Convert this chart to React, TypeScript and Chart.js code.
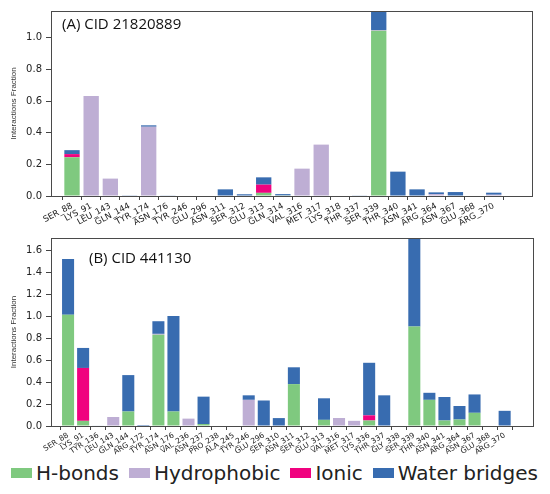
import React, { useEffect, useRef } from 'react';
import { Chart, registerables } from 'chart.js';

Chart.register(...registerables);

const seriesNames = ['H-bonds', 'Hydrophobic', 'Ionic', 'Water bridges'];
const seriesColors = ['#7fc97f', '#beaed4', '#f0027f', '#386cb0'];

// (A) CID 21820889
const residuesA = ['SER_88', 'LYS_91', 'LEU_143', 'GLN_144', 'TYR_174', 'ASN_176', 'TYR_246', 'GLU_296', 'ASN_311', 'SER_312', 'GLU_313', 'GLN_314', 'VAL_316', 'MET_317', 'LYS_318', 'THR_337', 'SER_339', 'THR_340', 'ASN_341', 'ARG_364', 'ASN_367', 'GLU_368', 'ARG_370'];
const hbondsA = [0.245, 0, 0, 0, 0, 0, 0, 0, 0, 0, 0.02, 0.004, 0, 0, 0, 0, 1.045, 0, 0, 0, 0, 0, 0];
const hydrophobicA = [0, 0.633, 0.11, 0, 0.438, 0, 0.003, 0, 0, 0, 0, 0, 0.173, 0.325, 0, 0, 0.005, 0, 0, 0.012, 0, 0, 0.008];
const ionicA = [0.02, 0, 0, 0, 0, 0, 0, 0, 0, 0, 0.052, 0, 0, 0, 0, 0, 0, 0, 0, 0, 0, 0, 0];
const waterA = [0.025, 0, 0, 0.002, 0.009, 0.004, 0, 0, 0.042, 0.011, 0.046, 0.008, 0, 0, 0, 0.004, 0.17, 0.154, 0.042, 0.011, 0.025, 0, 0.013];
const yTicksA = [0, 0.2, 0.4, 0.6, 0.8, 1.0];

// (B) CID 441130
const residuesB = ['SER_88', 'LYS_91', 'TYR_136', 'LEU_143', 'GLN_144', 'ARG_172', 'TYR_174', 'ASN_176', 'VAL_236', 'ASN_237', 'PRO_238', 'ALA_245', 'TYR_246', 'GLU_296', 'SER_310', 'ASN_311', 'SER_312', 'GLU_313', 'VAL_316', 'MET_317', 'LYS_336', 'THR_337', 'GLY_338', 'SER_339', 'THR_340', 'ASN_341', 'ARG_364', 'ASN_367', 'GLU_368', 'ARG_370'];
const hbondsB = [1.012, 0.047, 0, 0, 0.132, 0, 0.83, 0.132, 0, 0.018, 0, 0, 0, 0, 0, 0.381, 0, 0.056, 0, 0, 0.05, 0, 0, 0.906, 0.238, 0.05, 0.059, 0.12, 0, 0];
const hydrophobicB = [0, 0, 0, 0.082, 0, 0, 0.008, 0, 0.067, 0, 0, 0, 0.238, 0, 0, 0, 0, 0, 0.073, 0.047, 0, 0, 0, 0, 0, 0, 0, 0, 0, 0];
const ionicB = [0, 0.481, 0, 0, 0, 0, 0, 0, 0, 0, 0, 0, 0, 0, 0, 0, 0, 0, 0, 0, 0.047, 0, 0, 0, 0, 0, 0, 0, 0, 0];
const waterB = [0.507, 0.182, 0.005, 0, 0.331, 0.009, 0.115, 0.868, 0, 0.249, 0, 0, 0.041, 0.232, 0.072, 0.153, 0, 0.196, 0, 0, 0.478, 0.279, 0, 0.85, 0.064, 0.214, 0.123, 0.167, 0, 0.138];
const yTicksB = [0, 0.2, 0.4, 0.6, 0.8, 1.0, 1.2, 1.4, 1.6];

const tickFont = "'DejaVu Sans', sans-serif";

// matplotlib-like box round the plot area
const framePlugin = {
  id: 'frame',
  afterDraw(chart: Chart) {
    const { ctx, chartArea: a } = chart;
    ctx.save();
    ctx.strokeStyle = '#4a4a4a';
    ctx.lineWidth = 1;
    ctx.strokeRect(Math.round(a.left) + 0.5, Math.round(a.top) + 0.5, Math.round(a.right - a.left), Math.round(a.bottom - a.top));
    ctx.restore();
  },
};

interface PanelProps {
  residues: string[];
  series: number[][];
  yMax: number;
  yTicks: number[];
  xMin: number;
  xMax: number;
  padTop: number;
  padRight: number;
  xAxisHeight: number;
  xFontSize: number;
  xRotation: number;
}

const Panel: React.FC<PanelProps> = (p) => {
  const chartRef = useRef<HTMLCanvasElement | null>(null);
  const chartInstance = useRef<Chart | null>(null);

  useEffect(() => {
    if (!chartRef.current) return;
    if (chartInstance.current) chartInstance.current.destroy();

    chartInstance.current = new Chart(chartRef.current, {
      type: 'bar',
      data: {
        datasets: p.series.map((values, i) => ({
          label: seriesNames[i],
          data: values.map((v, j) => ({ x: j, y: v })),
          backgroundColor: seriesColors[i],
          borderWidth: 0,
          barPercentage: 0.8,
          categoryPercentage: 1,
          clip: 0,
        })),
      },
      options: {
        animation: false,
        responsive: true,
        maintainAspectRatio: false,
        layout: { padding: { left: 0, right: p.padRight, top: p.padTop, bottom: 0 } },
        plugins: { legend: { display: false }, tooltip: { enabled: false } },
        scales: {
          x: {
            type: 'linear',
            stacked: true,
            min: p.xMin,
            max: p.xMax,
            afterBuildTicks: (axis: any) => {
              axis.ticks = p.residues.map((_, i) => ({ value: i }));
            },
            afterFit: (axis: any) => {
              axis.height = p.xAxisHeight;
            },
            ticks: {
              autoSkip: false,
              minRotation: p.xRotation,
              maxRotation: p.xRotation,
              padding: 1,
              color: '#222',
              font: { family: tickFont, size: p.xFontSize },
              callback: (v: any) => p.residues[v] ?? '',
            },
            grid: { display: true, drawOnChartArea: false, drawTicks: true, tickLength: 4, color: '#444' },
            border: { display: false },
          },
          y: {
            stacked: true,
            min: 0,
            max: p.yMax,
            afterBuildTicks: (axis: any) => {
              axis.ticks = p.yTicks.map((v) => ({ value: v }));
            },
            afterFit: (axis: any) => {
              axis.width = 51;
            },
            ticks: {
              padding: 4,
              color: '#222',
              font: { family: tickFont, size: 10 },
              callback: (v: any) => Number(v).toFixed(1),
            },
            grid: { display: true, drawOnChartArea: false, drawTicks: true, tickLength: 5, color: '#444' },
            border: { display: false },
            title: {
              display: true,
              text: 'Interactions Fraction',
              color: '#333',
              font: { family: "'Liberation Sans', sans-serif", size: 8 },
              padding: { top: 9, bottom: 0 },
            },
          },
        },
      },
      plugins: [framePlugin],
    } as any);

    return () => {
      if (chartInstance.current) {
        chartInstance.current.destroy();
        chartInstance.current = null;
      }
    };
  }, [p]);

  return <canvas ref={chartRef} />;
};

const panelTitle: React.CSSProperties = {
  position: 'absolute',
  fontFamily: "'Open Sans', sans-serif",
  fontSize: 15,
  color: '#111',
  lineHeight: '18px',
  whiteSpace: 'nowrap',
};

const App: React.FC = () => {
  const seriesA = [hbondsA, hydrophobicA, ionicA, waterA];
  const seriesB = [hbondsB, hydrophobicB, ionicB, waterB];

  return (
    <div style={{ position: 'absolute', left: 0, top: 0, width: 550, height: 494, background: '#fff' }}>
      <div style={{ position: 'absolute', left: 0, top: 0, width: 550, height: 228 }}>
        <Panel
          residues={residuesA}
          series={seriesA}
          yMax={1.17}
          yTicks={yTicksA}
          xMin={-0.55}
          xMax={23.45}
          padTop={11}
          padRight={18}
          xAxisHeight={32}
          xFontSize={8.5}
          xRotation={28}
        />
      </div>
      <div style={{ ...panelTitle, left: 62, top: 14 }}>(A) CID 21820889</div>

      <div style={{ position: 'absolute', left: 0, top: 228, width: 550, height: 228 }}>
        <Panel
          residues={residuesB}
          series={seriesB}
          yMax={1.71}
          yTicks={yTicksB}
          xMin={-0.6}
          xMax={30.35}
          padTop={3}
          padRight={17}
          xAxisHeight={30}
          xFontSize={7.5}
          xRotation={32}
        />
      </div>
      <div style={{ ...panelTitle, left: 89, top: 248 }}>(B) CID 441130</div>

      <div
        style={{
          position: 'absolute',
          left: 11,
          top: 461,
          display: 'flex',
          alignItems: 'center',
          fontFamily: "'DejaVu Sans', sans-serif",
          fontSize: 20,
          color: '#222',
          whiteSpace: 'nowrap',
        }}
      >
        {seriesNames.map((name, i) => (
          <div key={name} style={{ display: 'flex', alignItems: 'center', marginRight: 10 }}>
            <span style={{ display: 'inline-block', width: 21, height: 10, background: seriesColors[i], marginRight: 4 }} />
            <span>{name}</span>
          </div>
        ))}
      </div>
    </div>
  );
};

export default App;
